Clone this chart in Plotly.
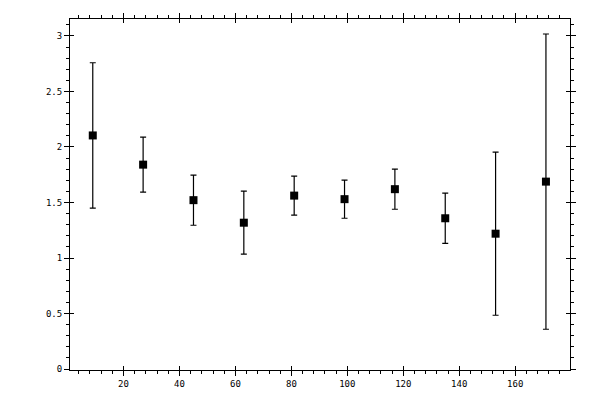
import plotly.graph_objects as go

# bin centres and measured values with symmetric errors
x_vals = [9, 27, 45, 63, 81, 99, 117, 135, 153, 171]
y_vals = [2.104, 1.841, 1.521, 1.318, 1.562, 1.530, 1.620, 1.358, 1.219, 1.688]
y_err = [0.655, 0.248, 0.226, 0.284, 0.176, 0.172, 0.181, 0.226, 0.735, 1.330]

x_ticks = [20, 40, 60, 80, 100, 120, 140, 160]
y_ticks = [0, 0.5, 1, 1.5, 2, 2.5, 3]
y_labels = ["0", "0.5", "1", "1.5", "2", "2.5", "3"]

x_range = [0.86, 179.6]
y_range = [-0.009, 3.153]
font = dict(family="DejaVu Sans Mono", size=9, color="black")

fig = go.Figure()
fig.add_trace(go.Scatter(
    x=x_vals, y=y_vals, mode="markers",
    marker=dict(symbol="square", size=8, color="black"),
    error_y=dict(type="data", array=y_err, visible=True, color="black",
                 thickness=1.2, width=3),
    showlegend=False,
))
# invisible trace to keep the overlay axes (inner half of major ticks) drawn
fig.add_trace(go.Scatter(x=[None], y=[None], xaxis="x2", yaxis="y2",
                         showlegend=False, hoverinfo="skip"))

axis_common = dict(showgrid=False, zeroline=False, showline=True, automargin=False,
                   linecolor="black", linewidth=1, mirror="allticks",
                   ticks="outside", ticklen=5, tickwidth=1, tickcolor="black",
                   tickfont=font)
inner_common = dict(showgrid=False, zeroline=False, showline=False, automargin=False,
                    mirror="allticks", ticks="inside", ticklen=4, tickwidth=1,
                    tickcolor="black", showticklabels=False)

fig.update_layout(
    width=600, height=400,
    margin=dict(l=70, r=30, t=19, b=30),
    paper_bgcolor="white", plot_bgcolor="white",
    xaxis=dict(axis_common, range=x_range, tickvals=x_ticks,
               minor=dict(dtick=4, tick0=0, ticks="outside", ticklen=3,
                          tickcolor="black", tickwidth=1)),
    yaxis=dict(axis_common, range=y_range, tickvals=y_ticks, ticktext=y_labels,
               minor=dict(dtick=0.1, tick0=0, ticks="outside", ticklen=3,
                          tickcolor="black", tickwidth=1)),
    xaxis2=dict(inner_common, overlaying="x", anchor="y2", range=x_range,
                tickvals=x_ticks),
    yaxis2=dict(inner_common, overlaying="y", anchor="x2", range=y_range,
                tickvals=y_ticks),
)

# drop the page's default body margin so the chart sits at the window origin
fig.write_html("out.html", config={"displayModeBar": False},
               post_script="document.body.style.margin='0';")
